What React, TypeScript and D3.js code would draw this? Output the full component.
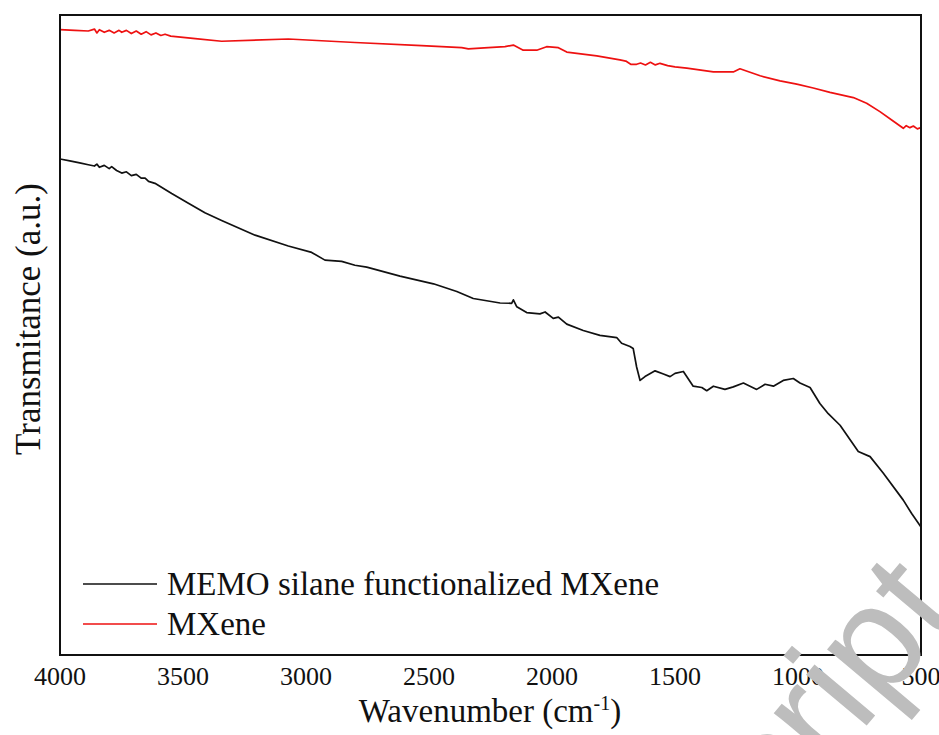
import React from 'react';
import * as d3 from 'd3';

// FTIR spectra, transmittance in arbitrary units
const wavenumberTicks = [4000, 3500, 3000, 2500, 2000, 1500, 1000, 500];
const seriesNames = ['MEMO silane functionalized MXene', 'MXene'];

const memoWavenumber = [
  4000, 3960, 3920, 3885, 3860, 3850, 3840, 3820, 3800, 3790, 3770, 3749, 3730, 3710,
  3690, 3670, 3654, 3640, 3614, 3546, 3478, 3411, 3343, 3207, 3072, 2977, 2923, 2855,
  2801, 2753, 2618, 2482, 2387, 2320, 2211, 2164, 2157, 2143, 2103, 2049, 2028, 1995,
  1974, 1940, 1873, 1805, 1737, 1717, 1683, 1670, 1656, 1642, 1622, 1581, 1547, 1520,
  1500, 1466, 1426, 1391, 1371, 1344, 1297, 1263, 1222, 1168, 1134, 1100, 1060, 1019,
  992, 951, 911, 877, 829, 755, 707, 653, 572, 538, 500,
];
const memoTransmittance = [
  77.5, 77.2, 76.9, 76.6, 76.4, 76.7, 76.2, 76.5, 76.0, 76.3, 75.7, 75.3, 75.5, 74.9,
  75.1, 74.5, 74.5, 74.0, 73.7, 72.1, 70.6, 69.1, 67.9, 65.6, 63.9, 62.9, 61.7, 61.5,
  60.9, 60.6, 59.2, 58.0, 56.8, 55.7, 55.0, 54.95, 55.5, 54.4, 53.5, 53.3, 53.6, 52.6,
  52.8, 51.7, 50.7, 49.95, 49.6, 48.7, 48.2, 47.9, 45.0, 42.9, 43.5, 44.4, 43.9, 43.5,
  44.0, 44.3, 42.0, 41.8, 41.3, 42.0, 41.5, 41.9, 42.5, 41.5, 42.3, 42.0, 42.9, 43.2,
  42.5, 41.8, 39.3, 37.7, 35.9, 31.8, 31.0, 28.4, 24.2, 22.1, 20.0,
];

const mxeneWavenumber = [
  4000, 3940, 3885, 3860, 3850, 3840, 3820, 3800, 3780, 3760, 3749, 3730, 3710, 3690,
  3670, 3650, 3630, 3610, 3590, 3573, 3550, 3500, 3450, 3343, 3072, 2801, 2530, 2367,
  2340, 2259, 2191, 2157, 2117, 2062, 2022, 1974, 1940, 1818, 1724, 1700, 1680, 1656,
  1640, 1620, 1600, 1580, 1561, 1530, 1500, 1452, 1344, 1263, 1236, 1154, 1073, 1005,
  938, 870, 775, 721, 667, 612, 572, 560, 545, 531, 515, 500,
];
const mxeneTransmittance = [
  97.7, 97.6, 97.5, 97.8, 97.2, 97.7, 97.3, 97.6, 97.2, 97.6, 97.3, 97.6, 97.1, 97.5,
  97.0, 97.4, 96.9, 97.2, 96.8, 97.0, 96.7, 96.5, 96.3, 95.9, 96.25, 95.7, 95.2, 94.9,
  94.7, 94.9, 95.05, 95.3, 94.5, 94.5, 95.05, 94.9, 94.2, 93.6, 93.0, 92.8, 92.3, 92.3,
  92.5, 92.2, 92.6, 92.2, 92.45, 92.1, 91.9, 91.7, 91.1, 91.1, 91.6, 90.5, 89.7, 89.2,
  88.6, 87.9, 87.1, 86.2, 84.9, 83.4, 82.3, 82.7, 82.4, 82.65, 82.2, 82.4,
];

const W = 939;
const H = 735;
const plot = { left: 60, right: 921, top: 15, bottom: 655 };
const serif: React.CSSProperties = { fontFamily: "'Liberation Serif', 'Times New Roman', serif" };
const sans: React.CSSProperties = { fontFamily: "'Liberation Sans', Arial, sans-serif" };

export default function App() {
  const x = d3.scaleLinear().domain([4000, 500]).range([plot.left, plot.right]);
  const y = d3.scaleLinear().domain([0, 100]).range([plot.bottom, plot.top]);

  const line = d3
    .line<[number, number]>()
    .x((d) => x(d[0]))
    .y((d) => y(d[1]))
    .curve(d3.curveLinear);

  const memo = memoWavenumber.map((w, i) => [w, memoTransmittance[i]] as [number, number]);
  const mxene = mxeneWavenumber.map((w, i) => [w, mxeneTransmittance[i]] as [number, number]);

  const series = [
    { name: seriesNames[0], data: memo, color: '#111111' },
    { name: seriesNames[1], data: mxene, color: '#ee1111' },
  ];

  return (
    <svg
      width={W}
      height={H}
      style={{ position: 'absolute', left: 0, top: 0, background: '#ffffff' }}
    >
      <defs>
        <clipPath id="plot-clip">
          <rect
            x={plot.left}
            y={plot.top}
            width={plot.right - plot.left}
            height={plot.bottom - plot.top}
          />
        </clipPath>
      </defs>

      {/* spectra */}
      <g clipPath="url(#plot-clip)">
        {series.map((s) => (
          <path
            key={s.name}
            d={line(s.data) ?? ''}
            fill="none"
            stroke={s.color}
            strokeWidth={1.7}
            strokeLinejoin="round"
          />
        ))}
      </g>

      {/* frame */}
      <rect
        x={plot.left}
        y={plot.top}
        width={plot.right - plot.left}
        height={plot.bottom - plot.top}
        fill="none"
        stroke="#111111"
        strokeWidth={2}
      />

      {/* x tick labels */}
      {wavenumberTicks.map((t) => (
        <text key={t} x={x(t)} y={685} textAnchor="middle" fontSize={26} fill="#111111" style={serif}>
          {t}
        </text>
      ))}

      {/* axis titles */}
      <text x={490} y={722} textAnchor="middle" fontSize={33} fill="#111111" style={serif}>
        Wavenumber (cm
        <tspan dy={-12} fontSize={20}>-1</tspan>
        <tspan dy={12}>)</tspan>
      </text>
      <text
        transform="translate(40, 319) rotate(-90)"
        textAnchor="middle"
        fontSize={35}
        fill="#111111"
        style={serif}
      >
        Transmitance (a.u.)
      </text>

      {/* legend */}
      {series.map((s, i) => (
        <g key={s.name} transform={`translate(0, ${584 + i * 40})`}>
          <line x1={83} x2={157} y1={0} y2={0} stroke={s.color} strokeWidth={1.7} />
          <text x={167} y={11} fontSize={33} fill="#111111" style={serif}>
            {s.name}
          </text>
        </g>
      ))}

      {/* watermark */}
      <text
        transform="translate(962, 612) rotate(-50)"
        textAnchor="end"
        fontSize={150}
        fill="#bdbdbd"
        style={sans}
      >
        Accepted Manuscript
      </text>
    </svg>
  );
}
